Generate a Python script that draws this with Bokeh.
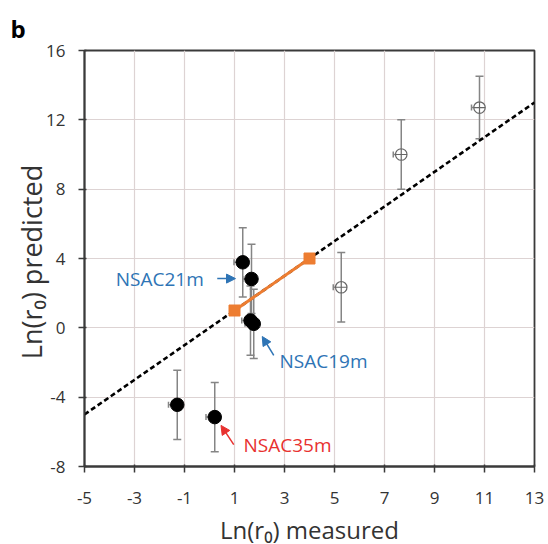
from bokeh.plotting import figure
from bokeh.models import (ColumnDataSource, Whisker, TeeHead, Arrow, NormalHead,
                          Label, FixedTicker, Title)
from bokeh.embed import file_html
from bokeh.resources import INLINE

# ---- data ----
meas_solid = [1.33, 1.68, 1.64, 1.77, -1.29, 0.21]
pred_solid = [3.78, 2.82, 0.42, 0.23, -4.44, -5.15]
yerr_solid = [2.0, 2.0, 2.0, 2.0, 2.0, 2.0]
xerr_solid = [0.35, 0.35, 0.35, 0.35, 0.35, 0.35]

meas_open = [7.67, 10.80, 5.27]
pred_open = [10.00, 12.71, 2.34]
yerr_open = [2.0, 1.8, 2.0]
xerr_open = [0.32, 0.32, 0.32]

fit_x = [1, 4]
fit_y = [1, 4]

ident_x = [-5, 13]
ident_y = [-5, 13]

x_ticks = [-5, -3, -1, 1, 3, 5, 7, 9, 11, 13]
y_ticks = [-8, -4, 0, 4, 8, 12, 16]

FONT = "Open Sans"
BLUE = "#2e74b5"
RED = "#e8312f"
ORANGE = "#ed7d31"
ERR = "#858585"

p = figure(output_backend="svg", toolbar_location=None,
           frame_width=450, frame_height=416,
           min_border_left=84, min_border_right=12,
           min_border_top=50, min_border_bottom=76,
           x_range=(-5, 13), y_range=(-8, 16),
           background_fill_color="white", border_fill_color="white")

p.outline_line_color = "#3a3a3a"
p.outline_line_width = 1.8

for ax in (p.xaxis[0], p.yaxis[0]):
    ax.axis_line_color = "#3a3a3a"
    ax.axis_line_width = 1.8
    ax.major_tick_line_color = "#3a3a3a"
    ax.major_tick_line_width = 1.5
    ax.major_tick_out = 6
    ax.major_tick_in = 2
    ax.minor_tick_line_color = None
    ax.major_label_text_font = FONT
    ax.major_label_text_font_size = "17px"
    ax.major_label_text_color = "#333333"
    ax.axis_label_text_font = FONT
    ax.axis_label_text_font_style = "normal"
    ax.axis_label_text_color = "#333333"

p.xaxis.ticker = FixedTicker(ticks=x_ticks)
p.yaxis.ticker = FixedTicker(ticks=y_ticks)
p.xaxis.major_label_overrides = {t: str(t) for t in x_ticks}
p.yaxis.major_label_overrides = {t: str(t) for t in y_ticks}
p.xaxis.major_label_standoff = 19
p.yaxis.major_label_standoff = 13
p.xaxis.axis_label = "Ln(r\u2080) measured"
p.yaxis.axis_label = "Ln(r\u2080)  predicted"
p.xaxis.axis_label_text_font_size = "24px"
p.yaxis.axis_label_text_font_size = "27px"
p.xaxis.axis_label_standoff = 6
p.yaxis.axis_label_standoff = -7

p.xgrid.ticker = FixedTicker(ticks=x_ticks)
p.ygrid.ticker = FixedTicker(ticks=y_ticks)
p.grid.grid_line_color = "#ddd3d3"
p.grid.grid_line_width = 1.2

# identity dashed line
p.line(ident_x, ident_y, line_color="black", line_width=2.6, line_dash="5 3")

# error bars
src_s = ColumnDataSource(dict(
    x=meas_solid, y=pred_solid,
    lo=[y - e for y, e in zip(pred_solid, yerr_solid)],
    hi=[y + e for y, e in zip(pred_solid, yerr_solid)],
    xlo=[x - e for x, e in zip(meas_solid, xerr_solid)]))
src_o = ColumnDataSource(dict(
    x=meas_open, y=pred_open,
    lo=[y - e for y, e in zip(pred_open, yerr_open)],
    hi=[y + e for y, e in zip(pred_open, yerr_open)],
    xlo=[x - e for x, e in zip(meas_open, xerr_open)]))

for src in (src_s, src_o):
    p.add_layout(Whisker(source=src, base="x", lower="lo", upper="hi",
                         line_color=ERR, line_width=1.5,
                         lower_head=TeeHead(size=8, line_color=ERR, line_width=1.5),
                         upper_head=TeeHead(size=8, line_color=ERR, line_width=1.5)))
    p.add_layout(Whisker(source=src, base="y", lower="xlo", upper="x", dimension="width",
                         line_color=ERR, line_width=1.5,
                         lower_head=TeeHead(size=6, line_color=ERR, line_width=1.5),
                         upper_head=None))

# orange fit segment
p.line(fit_x, fit_y, line_color=ORANGE, line_width=3)
p.scatter(fit_x, fit_y, marker="square", size=11, fill_color=ORANGE, line_color=ORANGE)

# markers
p.scatter("x", "y", source=src_s, marker="circle", size=13.5,
          fill_color="black", line_color="black")
p.scatter("x", "y", source=src_o, marker="circle_cross", size=11.5,
          fill_color="white", line_color="#666666", line_width=1.2)

# annotations
def note(text, x, y, align, color):
    p.add_layout(Label(x=x, y=y, text=text, text_align=align, text_baseline="middle",
                       text_font=FONT, text_font_size="19px", text_color=color))

def arrow(x0, y0, x1, y1, color):
    p.add_layout(Arrow(x_start=x0, y_start=y0, x_end=x1, y_end=y1,
                       line_color=color, line_width=1.5,
                       end=NormalHead(size=9, fill_color=color, line_color=color)))

note("NSAC21m", -0.23, 2.84, "right", BLUE)
arrow(0.31, 2.84, 1.04, 2.84, BLUE)
note("NSAC19m", 2.80, -1.93, "left", BLUE)
arrow(2.57, -1.59, 2.11, -0.50, BLUE)
note("NSAC35m", 1.36, -6.78, "left", RED)
arrow(0.97, -6.74, 0.46, -5.63, RED)

p.add_layout(Title(text="b", align="left", offset=-74, standoff=12,
                   text_font=FONT, text_font_size="24px", text_font_style="bold",
                   text_color="black"), "above")

open("out.html", "w").write(file_html(p, INLINE))
